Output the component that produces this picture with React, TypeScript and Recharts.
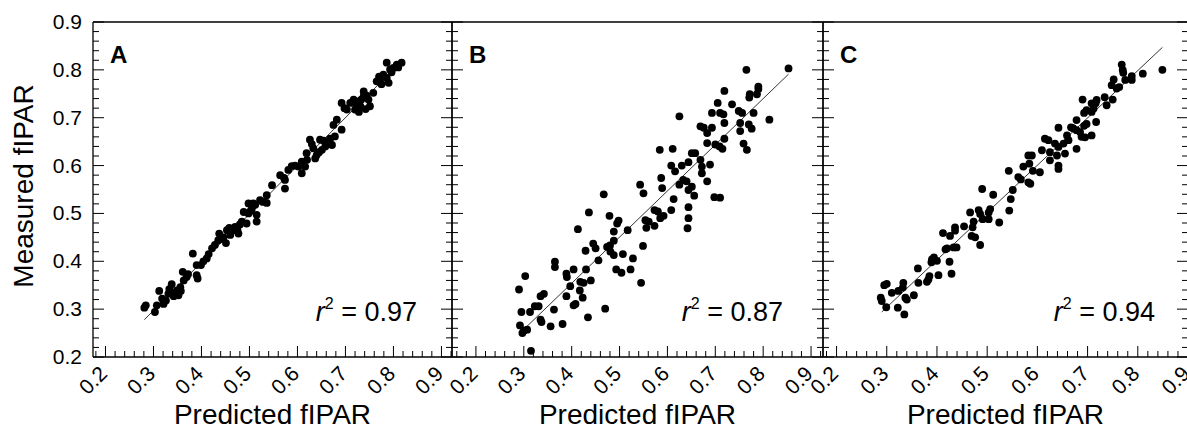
import React from "react";
import { ScatterChart, Scatter, XAxis, YAxis, ReferenceLine } from "recharts";

// every minor tick (0.02 steps); majors every 0.1 get long ticks + labels
const ALL_TICKS = [
  0.16, 0.18, 0.2, 0.22, 0.24, 0.26, 0.28, 0.3, 0.32, 0.34, 0.36, 0.38, 0.4, 0.42,
  0.44, 0.46, 0.48, 0.5, 0.52, 0.54, 0.56, 0.58, 0.6, 0.62, 0.64, 0.66, 0.68, 0.7,
  0.72, 0.74, 0.76, 0.78, 0.8, 0.82, 0.84, 0.86, 0.88, 0.9, 0.92,
];
const MAJOR_TICKS = [0.2, 0.3, 0.4, 0.5, 0.6, 0.7, 0.8, 0.9];

const PANEL_LETTERS = ["A", "B", "C"];
const R2_VALUES = ["0.97", "0.87", "0.94"];

// [predicted, measured]
const POINTS_A = [
  [0.281, 0.303], [0.284, 0.308], [0.303, 0.294], [0.307, 0.308], [0.312, 0.338], [0.321, 0.311],
  [0.326, 0.318], [0.331, 0.332], [0.338, 0.352], [0.342, 0.327], [0.349, 0.339], [0.356, 0.346],
  [0.352, 0.329], [0.363, 0.36], [0.361, 0.378], [0.369, 0.367], [0.382, 0.416], [0.39, 0.392],
  [0.39, 0.371], [0.392, 0.364], [0.399, 0.392], [0.411, 0.406], [0.415, 0.415], [0.422, 0.427],
  [0.428, 0.434], [0.435, 0.444], [0.437, 0.458], [0.446, 0.45], [0.451, 0.438], [0.453, 0.465],
  [0.46, 0.455], [0.467, 0.465], [0.475, 0.465], [0.477, 0.458], [0.484, 0.483], [0.488, 0.503],
  [0.494, 0.479], [0.498, 0.5], [0.498, 0.521], [0.505, 0.51], [0.508, 0.521], [0.515, 0.497],
  [0.515, 0.483], [0.522, 0.528], [0.536, 0.522], [0.536, 0.538], [0.547, 0.559], [0.564, 0.58],
  [0.574, 0.57], [0.574, 0.552], [0.581, 0.591], [0.588, 0.599], [0.602, 0.598], [0.609, 0.584],
  [0.609, 0.608], [0.616, 0.598], [0.619, 0.626], [0.626, 0.654], [0.633, 0.636], [0.637, 0.615],
  [0.64, 0.622], [0.647, 0.654], [0.651, 0.633], [0.658, 0.64], [0.665, 0.65], [0.672, 0.643],
  [0.678, 0.661], [0.675, 0.685], [0.682, 0.696], [0.692, 0.675], [0.692, 0.731], [0.703, 0.717],
  [0.71, 0.731], [0.717, 0.738], [0.72, 0.717], [0.727, 0.734], [0.731, 0.724], [0.738, 0.745],
  [0.738, 0.755], [0.748, 0.738], [0.751, 0.724], [0.758, 0.752], [0.765, 0.776], [0.772, 0.78],
  [0.779, 0.79], [0.786, 0.783], [0.79, 0.773], [0.793, 0.801], [0.786, 0.815], [0.8, 0.804],
  [0.807, 0.811], [0.817, 0.815], [0.318, 0.322], [0.333, 0.342], [0.345, 0.335], [0.357, 0.338],
  [0.372, 0.373], [0.404, 0.4], [0.442, 0.447], [0.458, 0.47], [0.47, 0.472], [0.48, 0.477],
  [0.502, 0.505], [0.512, 0.518], [0.528, 0.524], [0.572, 0.574], [0.595, 0.6], [0.62, 0.612],
  [0.63, 0.645], [0.645, 0.628], [0.655, 0.652], [0.668, 0.656], [0.698, 0.72], [0.722, 0.728],
  [0.733, 0.738], [0.744, 0.746], [0.742, 0.718], [0.728, 0.712], [0.775, 0.77], [0.796, 0.795],
  [0.81, 0.805], [0.77, 0.786],
];

const POINTS_B = [
  [0.853, 0.803], [0.765, 0.8], [0.79, 0.765], [0.79, 0.76], [0.787, 0.749], [0.771, 0.742],
  [0.772, 0.749], [0.719, 0.756], [0.705, 0.731], [0.735, 0.728], [0.749, 0.714], [0.756, 0.71],
  [0.71, 0.71], [0.717, 0.707], [0.693, 0.71], [0.719, 0.689], [0.78, 0.71], [0.813, 0.696],
  [0.625, 0.703], [0.669, 0.682], [0.676, 0.679], [0.693, 0.679], [0.683, 0.668], [0.752, 0.689],
  [0.752, 0.672], [0.77, 0.686], [0.776, 0.677], [0.719, 0.656], [0.715, 0.635], [0.709, 0.64],
  [0.7, 0.644], [0.683, 0.647], [0.759, 0.646], [0.766, 0.633], [0.584, 0.633], [0.611, 0.635],
  [0.651, 0.626], [0.658, 0.626], [0.644, 0.607], [0.63, 0.6], [0.608, 0.6], [0.616, 0.588],
  [0.669, 0.612], [0.672, 0.598], [0.689, 0.602], [0.672, 0.584], [0.683, 0.567], [0.625, 0.56],
  [0.633, 0.57], [0.64, 0.567], [0.651, 0.556], [0.644, 0.549], [0.656, 0.537], [0.587, 0.574],
  [0.589, 0.553], [0.543, 0.56], [0.55, 0.542], [0.613, 0.53], [0.698, 0.534], [0.71, 0.533],
  [0.644, 0.513], [0.644, 0.49], [0.642, 0.469], [0.608, 0.507], [0.58, 0.504], [0.573, 0.507],
  [0.592, 0.495], [0.585, 0.49], [0.554, 0.486], [0.561, 0.483], [0.556, 0.47], [0.573, 0.474],
  [0.479, 0.495], [0.498, 0.485], [0.495, 0.479], [0.488, 0.462], [0.488, 0.443], [0.517, 0.465],
  [0.467, 0.54], [0.436, 0.502], [0.413, 0.467], [0.445, 0.437], [0.45, 0.427], [0.429, 0.422],
  [0.474, 0.43], [0.481, 0.42], [0.488, 0.413], [0.507, 0.415], [0.48, 0.433], [0.456, 0.402],
  [0.43, 0.383], [0.528, 0.406], [0.523, 0.383], [0.493, 0.383], [0.504, 0.376], [0.549, 0.432],
  [0.545, 0.355], [0.365, 0.399], [0.365, 0.388], [0.389, 0.374], [0.39, 0.367], [0.404, 0.383],
  [0.418, 0.357], [0.425, 0.355], [0.44, 0.36], [0.397, 0.348], [0.389, 0.327], [0.417, 0.339],
  [0.423, 0.324], [0.404, 0.308], [0.408, 0.311], [0.434, 0.283], [0.47, 0.301], [0.342, 0.332],
  [0.335, 0.327], [0.331, 0.306], [0.323, 0.306], [0.363, 0.299], [0.335, 0.278], [0.337, 0.273],
  [0.356, 0.264], [0.381, 0.269], [0.29, 0.341], [0.303, 0.369], [0.295, 0.294], [0.313, 0.294],
  [0.292, 0.266], [0.3, 0.255], [0.307, 0.257], [0.297, 0.25], [0.315, 0.213],
];

const POINTS_C = [
  [0.849, 0.8], [0.81, 0.792], [0.768, 0.811], [0.77, 0.8], [0.771, 0.794], [0.788, 0.787],
  [0.788, 0.779], [0.775, 0.779], [0.752, 0.78], [0.748, 0.768], [0.758, 0.761], [0.763, 0.764],
  [0.734, 0.743], [0.718, 0.737], [0.716, 0.73], [0.75, 0.738], [0.738, 0.726], [0.69, 0.738],
  [0.708, 0.73], [0.712, 0.719], [0.708, 0.712], [0.693, 0.71], [0.698, 0.716], [0.678, 0.695],
  [0.717, 0.691], [0.698, 0.687], [0.693, 0.683], [0.667, 0.68], [0.671, 0.678], [0.678, 0.674],
  [0.642, 0.679], [0.708, 0.663], [0.685, 0.67], [0.688, 0.66], [0.695, 0.659], [0.659, 0.663],
  [0.662, 0.653], [0.678, 0.635], [0.615, 0.656], [0.622, 0.653], [0.635, 0.646], [0.642, 0.639],
  [0.652, 0.646], [0.655, 0.625], [0.609, 0.632], [0.625, 0.628], [0.639, 0.621], [0.582, 0.621],
  [0.589, 0.621], [0.642, 0.6], [0.642, 0.593], [0.625, 0.611], [0.572, 0.598], [0.584, 0.604],
  [0.591, 0.589], [0.605, 0.586], [0.543, 0.589], [0.562, 0.576], [0.567, 0.571], [0.582, 0.565],
  [0.586, 0.562], [0.551, 0.549], [0.547, 0.53], [0.544, 0.506], [0.524, 0.481], [0.512, 0.539],
  [0.49, 0.551], [0.506, 0.509], [0.503, 0.502], [0.466, 0.502], [0.483, 0.507], [0.486, 0.499],
  [0.491, 0.488], [0.503, 0.488], [0.454, 0.473], [0.473, 0.483], [0.471, 0.471], [0.469, 0.453],
  [0.476, 0.45], [0.486, 0.434], [0.412, 0.459], [0.426, 0.453], [0.436, 0.471], [0.436, 0.464],
  [0.439, 0.429], [0.433, 0.429], [0.42, 0.427], [0.417, 0.425], [0.394, 0.408], [0.39, 0.404],
  [0.4, 0.401], [0.389, 0.398], [0.425, 0.399], [0.429, 0.374], [0.403, 0.371], [0.385, 0.369],
  [0.38, 0.357], [0.383, 0.362], [0.362, 0.385], [0.363, 0.355], [0.333, 0.355], [0.332, 0.345],
  [0.3, 0.353], [0.295, 0.35], [0.323, 0.338], [0.31, 0.334], [0.354, 0.329], [0.34, 0.32],
  [0.337, 0.324], [0.288, 0.324], [0.29, 0.317], [0.299, 0.304], [0.322, 0.303], [0.335, 0.289],
];

// fitted lines, [start, end]
const FIT_A = [[0.281, 0.278], [0.814, 0.815]];
const FIT_B = [[0.29, 0.248], [0.853, 0.791]];
const FIT_C = [[0.29, 0.294], [0.849, 0.847]];

const FONT = "'Liberation Sans', Arial, Helvetica, sans-serif";
const CHART_W = 1190;
const CHART_H = 429;
const PLOT_TOP = 22;
const X_AXIS_H = 72;

const isMajor = (v: number) => MAJOR_TICKS.some((m) => Math.abs(m - v) < 1e-6);

const makeTick = (side: "bottom" | "top" | "left" | "right", labelled: boolean) =>
  (props: any) => {
    const { x, y, payload } = props;
    const v = payload.value;
    const major = isMajor(v);
    const len = major ? 11 : 6;
    const dx = side === "left" ? len : side === "right" ? -len : 0;
    const dy = side === "bottom" ? -len : side === "top" ? len : 0;
    return (
      <g>
        <line x1={x} y1={y} x2={x + dx} y2={y + dy} stroke="#000" strokeWidth={1} />
        {labelled && major && side === "bottom" && (
          <text
            transform={`translate(${x + 3},${y + 18}) rotate(-45)`}
            textAnchor="end"
            fontSize={21}
            fill="#000"
          >
            {v.toFixed(1)}
          </text>
        )}
        {labelled && major && side === "left" && (
          <text x={x - 11} y={y + 7} textAnchor="end" fontSize={21} fill="#000">
            {v.toFixed(1)}
          </text>
        )}
      </g>
    );
  };

type PanelProps = {
  idx: number;
  points: number[][];
  fit: number[][];
  left: number;
  right: number;
  xDomain: [number, number];
  r2Right: number;
};

function Panel({ idx, points, fit, left, right, xDomain, r2Right }: PanelProps) {
  const data = points.map(([x, y]) => ({ x, y }));
  const xTicks = ALL_TICKS.filter((t) => t >= xDomain[0] && t <= xDomain[1]);
  const yTicks = ALL_TICKS.filter((t) => t >= 0.2 && t <= 0.9);
  const first = idx === 0;
  const axisLine = { stroke: "#000", strokeWidth: 1.3 };
  return (
    <div style={{ position: "absolute", left: 0, top: 0 }}>
      <ScatterChart
        width={CHART_W}
        height={CHART_H}
        margin={{ top: PLOT_TOP, right: CHART_W - right, bottom: 0, left: 0 }}
      >
        <XAxis
          xAxisId="b"
          dataKey="x"
          type="number"
          domain={xDomain}
          allowDataOverflow
          ticks={xTicks}
          interval={0}
          height={X_AXIS_H}
          tickSize={0}
          tickMargin={0}
          axisLine={axisLine}
          tickLine={false}
          tick={makeTick("bottom", true)}
        />
        <XAxis
          xAxisId="t"
          orientation="top"
          mirror
          type="number"
          domain={xDomain}
          allowDataOverflow
          ticks={xTicks}
          interval={0}
          tickSize={0}
          tickMargin={0}
          axisLine={axisLine}
          tickLine={false}
          tick={makeTick("top", false)}
        />
        <YAxis
          yAxisId="l"
          dataKey="y"
          type="number"
          domain={[0.2, 0.9]}
          allowDataOverflow
          ticks={yTicks}
          interval={0}
          width={left}
          tickSize={0}
          tickMargin={0}
          axisLine={axisLine}
          tickLine={false}
          tick={makeTick("left", first)}
        />
        <YAxis
          yAxisId="r"
          orientation="right"
          mirror
          type="number"
          domain={[0.2, 0.9]}
          allowDataOverflow
          ticks={yTicks}
          interval={0}
          tickSize={0}
          tickMargin={0}
          axisLine={axisLine}
          tickLine={false}
          tick={makeTick("right", false)}
        />
        <ReferenceLine
          xAxisId="b"
          yAxisId="l"
          segment={fit.map(([x, y]) => ({ x, y }))}
          stroke="#000"
          strokeWidth={0.8}
        />
        <Scatter
          xAxisId="b"
          yAxisId="l"
          data={data}
          fill="#000"
          isAnimationActive={false}
          shape={(p: any) => <circle cx={p.cx} cy={p.cy} r={3.9} fill="#000" />}
        />
        <text x={left + 17} y={63} fontSize={24} fontWeight="bold" fill="#000">
          {PANEL_LETTERS[idx]}
        </text>
        <text x={r2Right} y={321} textAnchor="end" fontSize={27} fill="#000">
          <tspan fontStyle="italic">r</tspan>
          <tspan dy={-12} fontSize={16}>2</tspan>
          <tspan dy={12}> = {R2_VALUES[idx]}</tspan>
        </text>
        <text x={(left + right) / 2} y={424} textAnchor="middle" fontSize={28} fill="#000">
          Predicted fIPAR
        </text>
        {first && (
          <text
            transform="translate(33,186) rotate(-90)"
            textAnchor="middle"
            fontSize={28}
            fill="#000"
          >
            Measured fIPAR
          </text>
        )}
      </ScatterChart>
    </div>
  );
}

export default function App() {
  return (
    <div
      style={{
        position: "absolute",
        left: 0,
        top: 0,
        width: 1187,
        height: 429,
        overflow: "hidden",
        background: "#fff",
        fontFamily: FONT,
      }}
    >
      <Panel idx={0} points={POINTS_A} fit={FIT_A} left={93} right={452} xDomain={[0.174, 0.922]} r2Right={417} />
      <Panel idx={1} points={POINTS_B} fit={FIT_B} left={452} right={823} xDomain={[0.15, 0.925]} r2Right={783} />
      <Panel idx={2} points={POINTS_C} fit={FIT_C} left={823} right={1188} xDomain={[0.173, 0.9]} r2Right={1155} />
    </div>
  );
}
